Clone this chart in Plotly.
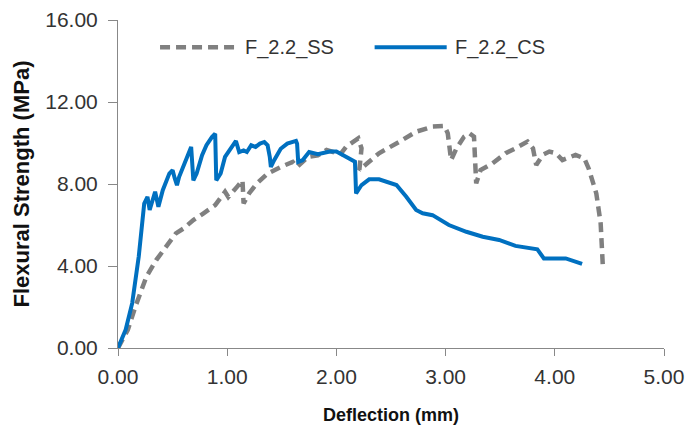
import plotly.graph_objects as go

# F_2.2_SS (gray dashed)
ss_x = [0, 0.09, 0.16, 0.26, 0.35, 0.44, 0.53, 0.60, 0.69, 0.78, 0.89, 0.98, 1.01, 1.09, 1.14, 1.15,
        1.20, 1.27, 1.37, 1.49, 1.60, 1.64, 1.74, 1.83, 1.91, 1.98, 2.03, 2.09, 2.20, 2.23, 2.21,
        2.28, 2.39, 2.58, 2.73, 2.88, 2.99, 3.02, 3.05, 3.10, 3.17, 3.22, 3.26, 3.28, 3.32, 3.43,
        3.55, 3.64, 3.75, 3.80, 3.83, 3.89, 3.95, 4.01, 4.07, 4.19, 4.27, 4.31, 4.38, 4.42, 4.44]
ss_y = [0, 0.89, 2.03, 3.48, 4.29, 4.94, 5.59, 5.83, 6.24, 6.56, 6.97, 7.62, 7.37, 7.86, 8.18, 7.05,
        7.54, 8.02, 8.51, 8.83, 9.08, 8.83, 9.32, 9.40, 9.66, 9.55, 9.41, 9.82, 10.23, 9.74, 8.68,
        9.00, 9.50, 10.07, 10.55, 10.80, 10.83, 10.47, 9.17, 9.74, 10.31, 10.47, 10.31, 8.03, 8.68, 9.01,
        9.50, 9.74, 10.07, 9.74, 8.93, 9.42, 9.58, 9.50, 9.17, 9.42, 9.25, 8.76, 7.54, 6.08, 3.97]

# F_2.2_CS (blue solid)
cs_x = [0, 0.07, 0.13, 0.19, 0.24, 0.27, 0.29, 0.32, 0.34, 0.37, 0.41, 0.47, 0.50, 0.52, 0.54, 0.56,
        0.62, 0.67, 0.69, 0.72, 0.77, 0.81, 0.86, 0.89, 0.90, 0.94, 0.98, 1.03, 1.08, 1.11, 1.15,
        1.18, 1.22, 1.26, 1.30, 1.34, 1.37, 1.39, 1.40, 1.43, 1.49, 1.55, 1.63, 1.64, 1.65, 1.69,
        1.75, 1.83, 1.94, 2.00, 2.12, 2.17, 2.18, 2.23, 2.30, 2.39, 2.55, 2.64, 2.73, 2.79, 2.88,
        3.03, 3.19, 3.34, 3.49, 3.64, 3.84, 3.90, 4.10, 4.25]
cs_y = [0, 0.89, 2.19, 4.46, 7.05, 7.37, 6.73, 7.21, 7.62, 6.89, 7.70, 8.51, 8.67, 8.27, 7.94, 8.35,
        9.16, 9.81, 8.18, 8.51, 9.40, 9.89, 10.29, 10.45, 8.18, 8.51, 9.32, 9.72, 10.10, 9.56, 9.64,
        9.56, 9.89, 9.81, 9.97, 10.05, 9.89, 9.32, 8.83, 9.16, 9.72, 9.97, 10.10, 9.97, 9.08, 9.16,
        9.56, 9.45, 9.58, 9.58, 9.25, 9.09, 7.54, 7.95, 8.23, 8.23, 7.95, 7.38, 6.73, 6.57, 6.48,
        6.00, 5.67, 5.43, 5.27, 4.98, 4.81, 4.37, 4.37, 4.10]

series_names = ["F_2.2_SS", "F_2.2_CS"]
x_ticks = [0, 1, 2, 3, 4, 5]
y_ticks = [0, 4, 8, 12, 16]

SS_STYLE = dict(color="#808080", width=4.5, dash="10px,6px")
CS_STYLE = dict(color="#0070C0", width=4)

fig = go.Figure()
fig.add_trace(go.Scatter(x=ss_x, y=ss_y, mode="lines", name=series_names[0], line=SS_STYLE,
                         showlegend=False))
fig.add_trace(go.Scatter(x=cs_x, y=cs_y, mode="lines", name=series_names[1], line=CS_STYLE,
                         showlegend=False))

# Legend drawn as decoration (longer sample lines like the original)
leg_y = 0.917
legend_items = [
    (0.077, 0.214, 0.229, SS_STYLE, series_names[0]),
    (0.470, 0.602, 0.614, CS_STYLE, series_names[1]),
]
for x0, x1, xt, sty, name in legend_items:
    fig.add_shape(type="line", xref="paper", yref="paper", x0=x0, x1=x1, y0=leg_y, y1=leg_y,
                  line=sty)
    fig.add_annotation(x=xt, y=leg_y, xref="paper", yref="paper", text=name, showarrow=False,
                       xanchor="left", yanchor="middle",
                       font=dict(size=20, color="#333333"))

font_family = "Liberation Sans, Arial, sans-serif"
fig.update_layout(
    width=685, height=425,
    margin=dict(l=118, r=21, t=20, b=77),
    paper_bgcolor="white", plot_bgcolor="white",
    font=dict(family=font_family, size=20, color="#333333"),
    showlegend=False,
    xaxis=dict(range=[0, 5], tickvals=x_ticks, ticktext=[f"{v:.2f}" for v in x_ticks],
               automargin=False,
               showgrid=False, zeroline=False, showline=True, linecolor="#888888", linewidth=1,
               ticks="outside", ticklen=7, tickcolor="#888888", ticklabelstandoff=3,
               tickfont=dict(size=21, color="#333333"),
               title=dict(text="<b>Deflection (mm)</b>", font=dict(size=18, color="#111111"), standoff=21)),
    yaxis=dict(range=[0, 16], tickvals=y_ticks, ticktext=[f"{v:.2f}" for v in y_ticks],
               automargin=False,
               showgrid=False, zeroline=False, showline=True, linecolor="#888888", linewidth=1,
               ticks="outside", ticklen=9, tickcolor="#888888", ticklabelstandoff=6,
               tickfont=dict(size=21, color="#333333"),
               title=dict(text="<b>Flexural Strength (MPa)</b>", font=dict(size=22, color="#111111"), standoff=9)),
)

fig.write_html("out.html", config={"displayModeBar": False},
               post_script="document.body.style.margin='0';document.body.style.padding='0';")
